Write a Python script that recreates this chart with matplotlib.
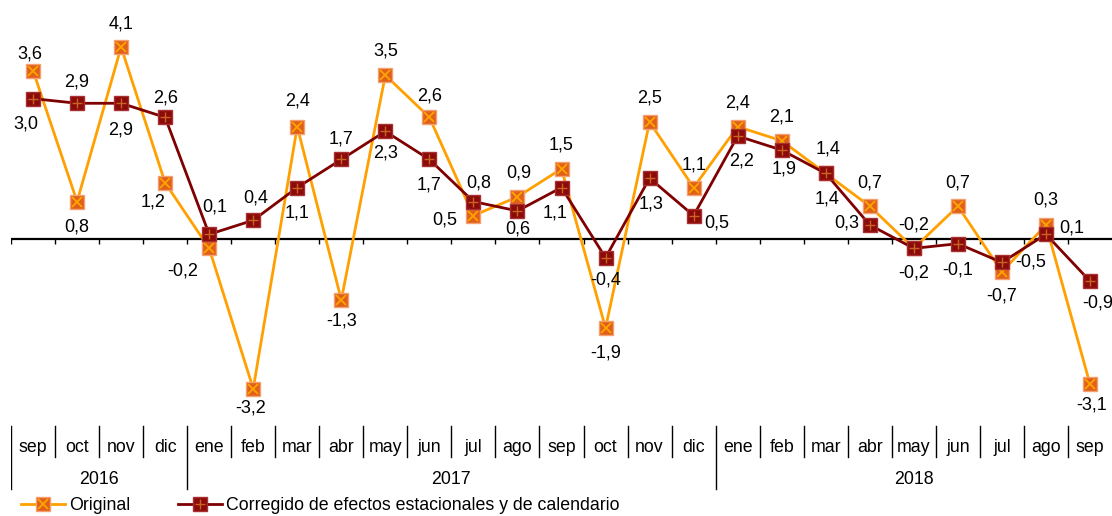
import matplotlib
matplotlib.use("Agg")
from matplotlib import pyplot as plt
from matplotlib.lines import Line2D

plt.rcParams['font.family'] = ['Liberation Sans', 'DejaVu Sans']
FS = 12.8
FS_LAB = 13

months = ["sep", "oct", "nov", "dic",
          "ene", "feb", "mar", "abr", "may", "jun", "jul", "ago", "sep", "oct", "nov", "dic",
          "ene", "feb", "mar", "abr", "may", "jun", "jul", "ago", "sep"]
years = ["2016", "2017", "2018"]
year_counts = [4, 12, 9]

original = [3.6, 0.8, 4.1, 1.2, -0.2, -3.2, 2.4, -1.3, 3.5, 2.6, 0.5, 0.9, 1.5,
            -1.9, 2.5, 1.1, 2.4, 2.1, 1.4, 0.7, -0.2, 0.7, -0.7, 0.3, -3.1]
corregido = [3.0, 2.9, 2.9, 2.6, 0.1, 0.4, 1.1, 1.7, 2.3, 1.7, 0.8, 0.6, 1.1,
             -0.4, 1.3, 0.5, 2.2, 1.9, 1.4, 0.3, -0.2, -0.1, -0.5, 0.1, -0.9]

# label offsets in pixels (dx, dy), dy positive = down in the picture
orig_off = [(-3, -17), (0, 25), (0, -23), (-12, 19), (-26, 23), (-3, 19), (0, -26),
            (0, 21), (0, -24), (0, -21), (-29, 4), (1, -24), (0, -24), (0, 25),
            (0, -24), (0, -23), (0, -24), (0, -24), (2, -24), (0, -23), (0, -23),
            (0, -23), (0, 24), (0, -25), (2, 21)]
corr_off = [(-7, 25), (0, -21), (0, 27), (0, -19), (6, -27), (3, -22), (0, 25),
            (0, -20), (0, 22), (0, 26), (5, -19), (0, 18), (-6, 25), (0, 22),
            (1, 26), (23, 7), (4, 25), (2, 19), (1, 26), (-23, -2), (0, 25),
            (0, 26), (29, 0), (26, -6), (8, 22)]

x = list(range(len(months)))

fig = plt.figure(figsize=(11.12, 5.16), dpi=100)
ax = fig.add_axes([11 / 1112, 96 / 516, 1101 / 1112, 420 / 516])
ax.set_xlim(-0.5, len(months) - 0.5)
ax.set_ylim(-(420 - 239) / 46.8, 239 / 46.8)
ax.axis("off")

ax.axhline(0, color="black", lw=1.6, zorder=1)
ax.vlines([i - 0.5 for i in x], -5 / 46.8, 0, color="black", lw=1, zorder=1)

ax.plot(x, original, color="#FFA000", lw=2, zorder=3)
ax.plot(x, original, ls="none", marker="s", ms=9.5, mfc="#E0601A", mec="#F4A070", mew=1, zorder=4)
ax.plot(x, original, ls="none", marker="x", ms=7, mec="#FFA500", mew=1.3, zorder=5)

ax.plot(x, corregido, color="#7F0000", lw=2, zorder=6)
ax.plot(x, corregido, ls="none", marker="s", ms=9.5, mfc="#8B0A0A", mec="#A83030", mew=1, zorder=7)
ax.plot(x, corregido, ls="none", marker="+", ms=7, mec="#C86420", mew=1, zorder=8)

for i, v in enumerate(original):
    dx, dy = orig_off[i]
    ax.annotate(f"{v:.1f}".replace(".", ","), (i, v), xytext=(dx, -dy),
                textcoords="offset pixels", ha="center", va="center", fontsize=FS_LAB,
                annotation_clip=False, zorder=10)
for i, v in enumerate(corregido):
    dx, dy = corr_off[i]
    ax.annotate(f"{v:.1f}".replace(".", ","), (i, v), xytext=(dx, -dy),
                textcoords="offset pixels", ha="center", va="center", fontsize=FS_LAB,
                annotation_clip=False, zorder=10)

# category table below
tax = fig.add_axes([11 / 1112, 0, 1101 / 1112, 1])
tax.set_xlim(-0.5, len(months) - 0.5)
tax.set_ylim(516, 0)
tax.axis("off")
year_starts = [sum(year_counts[:k]) for k in range(len(years))]
for i in x:
    if i in year_starts:
        tax.plot([i - 0.5, i - 0.5], [426, 489], color="black", lw=1)
    else:
        tax.plot([i - 0.5, i - 0.5], [426, 457], color="black", lw=1)
    tax.text(i, 448, months[i], ha="center", va="center", fontsize=FS)
for k, yr in enumerate(years):
    center = year_starts[k] + (year_counts[k] - 1) / 2
    tax.text(center, 479, yr, ha="center", va="center", fontsize=FS)

h_orig = (Line2D([], [], color="#FFA000", lw=2),
          Line2D([], [], ls="none", marker="s", ms=9.5, mfc="#E0601A", mec="#F4A070"),
          Line2D([], [], ls="none", marker="x", ms=7, mec="#FFA500", mew=1.3))
h_corr = (Line2D([], [], color="#7F0000", lw=2),
          Line2D([], [], ls="none", marker="s", ms=9.5, mfc="#8B0A0A", mec="#A83030"),
          Line2D([], [], ls="none", marker="+", ms=7, mec="#C86420", mew=1))
fig.legend([h_orig, h_corr], ["Original", "Corregido de efectos estacionales y de calendario"],
           loc="center left", bbox_to_anchor=(21 / 1112, 1 - 506 / 516), ncol=2,
           frameon=False, fontsize=FS, handlelength=2.45, handletextpad=0.25,
           columnspacing=2.7, borderpad=0, borderaxespad=0)

fig.savefig("out.png", dpi=100)
